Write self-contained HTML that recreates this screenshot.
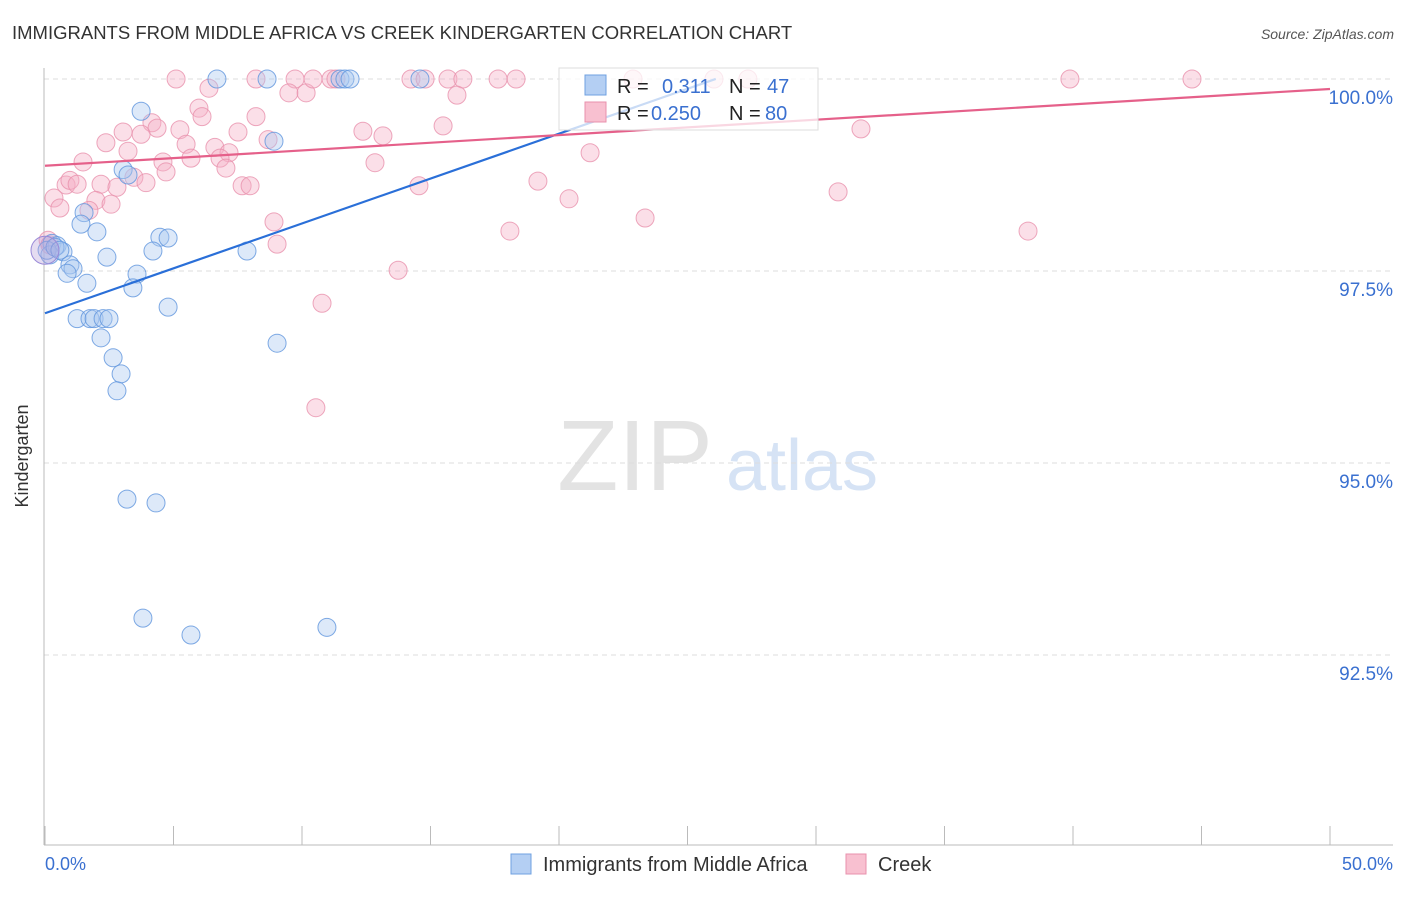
<!DOCTYPE html>
<html><head><meta charset="utf-8"><style>
body{margin:0;background:#fff;width:1406px;height:892px;overflow:hidden;font-family:"Liberation Sans",sans-serif}
svg text{font-family:"Liberation Sans",sans-serif}
</style></head><body>
<svg id="chart" width="1406" height="892">
<text x="12" y="39" font-size="18.5" fill="#333">IMMIGRANTS FROM MIDDLE AFRICA VS CREEK KINDERGARTEN CORRELATION CHART</text>
<text x="1394" y="39" font-size="14" fill="#555" font-style="italic" text-anchor="end">Source: ZipAtlas.com</text>
<g>
<text x="635" y="490" font-size="100" font-family="Liberation Serif" fill="#e3e3e3" text-anchor="middle">ZIP</text>
<text x="802" y="490" font-size="72" fill="#d6e3f5" text-anchor="middle">atlas</text>
</g>
<g id="grid"></g>
<line x1="44" y1="68" x2="44" y2="845" stroke="#bbb"/>
<line x1="44" y1="845" x2="1393" y2="845" stroke="#bbb"/>
<g id="xticks"></g>
<text x="28" y="456" font-size="18" fill="#333" text-anchor="middle" transform="rotate(-90 28 456)">Kindergarten</text>
<text x="45" y="870" font-size="18" fill="#3a70d0" text-anchor="start">0.0%</text>
<text x="1393" y="870" font-size="18" fill="#3a70d0" text-anchor="end">50.0%</text>
<g id="points"></g>
<g id="lines"></g>
<g>
<rect x="559" y="68" width="259" height="62" fill="#fff" fill-opacity="0.75" stroke="#ddd"/>
<rect x="585" y="75" width="21" height="20" fill="#b4cff3" stroke="#6fa0e0"/>
<rect x="585" y="102" width="21" height="20" fill="#f8c0d0" stroke="#e891ad"/>
<text x="617" y="93" font-size="20" fill="#222">R =</text>
<text x="662" y="93" font-size="20" fill="#3a70d0">0.311</text>
<text x="729" y="93" font-size="20" fill="#222">N =</text>
<text x="767" y="93" font-size="20" fill="#3a70d0">47</text>
<text x="617" y="120" font-size="20" fill="#222">R =</text>
<text x="651" y="120" font-size="20" fill="#3a70d0">0.250</text>
<text x="729" y="120" font-size="20" fill="#222">N =</text>
<text x="765" y="120" font-size="20" fill="#3a70d0">80</text>
</g>
<g>
<rect x="511" y="854" width="20" height="20" fill="#b4cff3" stroke="#6fa0e0"/>
<text x="543" y="871" font-size="20" fill="#333">Immigrants from Middle Africa</text>
<rect x="846" y="854" width="20" height="20" fill="#f8c0d0" stroke="#e891ad"/>
<text x="878" y="871" font-size="20" fill="#333">Creek</text>
</g>
</svg>
<script>
const yTicks=[100,97.5,95,92.5];
const yTickLabels=["100.0%","97.5%","95.0%","92.5%"];
const xTicks=[0,5,10,15,20,25,30,35,40,45,50];
const blueX=[6.69,8.64,11.48,11.67,11.87,14.59,3.74,8.91,3.04,3.23,1.52,1.40,2.02,4.47,4.79,4.20,7.86,2.41,0.27,0.47,0.70,0.19,0.97,1.09,0.86,3.58,1.63,3.42,4.79,1.25,1.75,1.91,2.26,2.49,2.18,2.65,2.96,2.80,9.03,3.19,4.32,3.81,5.68,10.97,0.08,0.39,0.58];
const blueY=[100,100,100,100,100,100,99.58,99.19,98.82,98.75,98.26,98.11,98.01,97.94,97.93,97.76,97.76,97.68,97.86,97.83,97.75,97.71,97.58,97.53,97.47,97.46,97.34,97.28,97.03,96.88,96.88,96.88,96.88,96.88,96.63,96.37,96.16,95.94,96.56,94.53,94.48,92.98,92.76,92.86,97.77,97.81,97.77];
const pinkX=[5.10,6.38,8.21,9.73,9.49,10.16,10.43,11.13,11.32,14.24,14.79,15.68,16.26,16.03,17.63,18.33,22.88,26.03,27.35,39.88,44.63,5.99,6.11,8.21,4.16,4.36,3.04,5.25,7.51,3.74,2.37,5.49,6.61,7.16,3.23,8.68,12.37,13.15,15.49,31.75,21.21,1.48,4.59,5.68,6.81,7.04,4.71,12.84,3.46,0.82,0.97,1.25,2.18,2.80,3.93,7.67,7.98,14.55,19.18,0.35,1.98,2.57,0.58,1.71,8.91,20.39,23.35,30.86,18.09,38.25,9.03,13.74,10.78,10.54,0.12,0.19];
const pinkY=[100,99.88,100,100,99.82,99.82,100,100,100,100,100,100,100,99.79,100,100,100,100,100,100,100,99.62,99.51,99.51,99.43,99.36,99.31,99.34,99.31,99.28,99.17,99.15,99.11,99.04,99.06,99.21,99.32,99.26,99.39,99.35,99.04,98.92,98.92,98.97,98.97,98.84,98.79,98.91,98.72,98.62,98.68,98.63,98.63,98.59,98.65,98.61,98.61,98.61,98.67,98.45,98.42,98.37,98.32,98.29,98.14,98.44,98.19,98.53,98.02,98.02,97.85,97.51,97.08,95.72,97.90,97.84];
const blueTrend=[96.95,0.1169,26.1];
const pinkTrend=[98.87,0.020,50];
const xs=v=>45+v*25.7;
const ys=v=>79-(v-100)*76.8;
const NS="http://www.w3.org/2000/svg";
function mk(t,a,p){const e=document.createElementNS(NS,t);for(const k in a)e.setAttribute(k,a[k]);p.appendChild(e);return e;}
const grid=document.getElementById('grid');
yTicks.forEach((t,i)=>{
 const l=mk('line',{x1:44,x2:1393,y1:ys(t),y2:ys(t),stroke:'#ddd','stroke-dasharray':'5,4'},grid);
 
 
 const tx=mk('text',{x:1393,y:ys(t)+25,'font-size':19,fill:'#3a70d0','text-anchor':'end'},grid);
 tx.textContent=yTickLabels[i];
 
 
});
const xt=document.getElementById('xticks');
xTicks.forEach(t=>{
 const l=mk('line',{x1:xs(t),x2:xs(t),y1:826,y2:845,stroke:'#bbb'},xt);
 
 
});
const pts=document.getElementById('points');
function dots(X,Y,fill,stroke,name){
 X.forEach((x,i)=>{
  const c=mk('circle',{cx:xs(x),cy:ys(Y[i]),r:9,fill:fill,'fill-opacity':0.4,stroke:stroke,'stroke-opacity':0.8,'stroke-width':1},pts);
  
  
 });
}
dots(pinkX,pinkY,'#f5b0c5','#e891ad','creek-point');
dots(blueX,blueY,'#a9c8f0','#5f95dd','middle-africa-point');
const big1=mk('circle',{cx:xs(0),cy:ys(97.77),r:14,fill:'#b49ad8','fill-opacity':0.35,stroke:'#9a8ad8'},pts);


const lg=document.getElementById('lines');
const bl=mk('line',{x1:xs(0),y1:ys(blueTrend[0]),x2:xs(blueTrend[2]),y2:ys(blueTrend[0]+blueTrend[1]*blueTrend[2]),stroke:'#2a6fd8','stroke-width':2.2},lg);


const pl=mk('line',{x1:xs(0),y1:ys(pinkTrend[0]),x2:xs(pinkTrend[2]),y2:ys(pinkTrend[0]+pinkTrend[1]*pinkTrend[2]),stroke:'#e5608a','stroke-width':2.2},lg);


</script>
</body></html>
